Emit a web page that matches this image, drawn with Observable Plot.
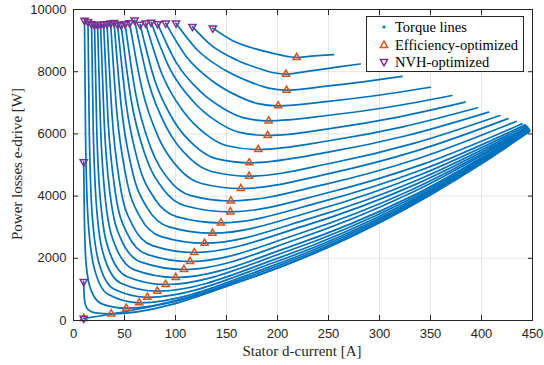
<!DOCTYPE html>
<html><head><meta charset="utf-8">
<script src="https://cdn.jsdelivr.net/npm/d3@7"></script>
<script src="https://cdn.jsdelivr.net/npm/@observablehq/plot@0.6"></script>
<style>
body{margin:0;background:#fff;}
#wrap{position:relative;width:544px;height:365px;overflow:hidden;}
.lab{position:absolute;font-family:"Liberation Serif","Times New Roman",serif;font-size:15px;line-height:16px;color:#262626;white-space:nowrap;}
#xlab{left:0;width:544px;text-align:center;top:343px;padding-left:60px;box-sizing:border-box;}
#ylab{left:17px;top:164px;transform:translate(-50%,-50%) rotate(-90deg);}
#legend{position:absolute;left:366px;top:16px;width:158px;height:56px;border:1px solid #262626;background:#fff;box-sizing:border-box;font-family:"Liberation Serif","Times New Roman",serif;font-size:14.5px;color:#000;}
.row{position:absolute;left:0;height:18px;line-height:18px;}
.row svg{position:absolute;left:12px;top:4px;}
.row span{position:absolute;left:28px;top:0;white-space:nowrap;}
</style></head>
<body><div id="wrap"></div>
<script>
const xTicks = [0,50,100,150,200,250,300,350,400,450];
const yTicks = [0,2000,4000,6000,8000,10000];

// Torque lines: points (stator d-current [A], losses [W])
const torqueX = [
 [10,50,100,150,200,250,300,350,400,447],
 [10,10.4,11.5,14.6,21.3,37,172.3,307.6,447],
 [10,10.7,12.4,17.3,27.7,51.8,182.2,312.6,447],
 [10.8,11.8,14.2,20.5,33.8,64.4,190.7,316.9,447],
 [14.2,15.5,18.3,25.3,39.6,72.4,196,319.6,447],
 [17.7,19.4,22.9,30.8,46.5,82.2,202.6,323,447],
 [20.6,22.8,27.0,35.8,52.6,90.4,208.1,325.8,446.5],
 [23.6,26.5,31.5,41.5,59.8,100.2,214.5,328.8,446.5],
 [26.5,30.1,36.1,47.0,66.3,108.3,219.7,331.2,446],
 [29.5,33.8,40.7,52.4,72.1,114.3,223.8,333.2,446],
 [32.9,37.8,45.5,57.8,77.4,118.4,226.3,334.3,445.5],
 [36.4,42.4,51.6,65.2,86.0,128.5,233,337.4,445],
 [39.8,46.9,57.4,72.3,93.6,136.3,237.8,339.4,444],
 [43.2,51.6,63.6,79.8,101.8,144.5,243,341.5,443],
 [46.7,56.5,70.5,88.2,111.0,153.8,248.2,342.7,440],
 [50.6,61.1,75.8,93.6,115.2,154.3,246.6,338.9,434],
 [55,67.2,83.9,103.4,125.5,164.1,250.5,337,426],
 [59.9,73.6,92.2,113.1,135.3,172.3,253.4,334.5,418],
 [65.3,79.5,98.6,119.2,139.8,172.3,249.8,327.2,407],
 [70.7,86.6,107.8,129.9,150.5,181.1,252,322.9,396],
 [76.1,93.9,117.4,141.1,161.9,190.4,254.3,318.2,384],
 [82.5,100.8,124.6,148.1,167.2,191.3,250.6,309.9,371],
 [90.4,110.3,136.1,160.8,179.5,200.7,250,299.2,350],
 [100.5,121.5,148.4,173.6,191.3,208.9,246.2,283.5,322],
 [116.6,135.5,159.8,181.9,196.2,208.3,232.3,256.3,281],
 [136.6,154.7,177.7,198.3,210.6,218.8,230.7,242.7,255]
];
const torqueY = [
 [70,281,641,1107,1680,2359,3145,4037,5036,6075],
 [1250,836,526,339,246,215,1357,3280,6085],
 [5100,3218,1807,960,536,395,1539,3403,6095],
 [9650,6018,3293,1659,841,569,1707,3517,6105],
 [9600,6058,3402,1808,1012,746,1857,3612,6115],
 [9540,6101,3521,1974,1200,942,2030,3724,6125],
 [9510,6169,3664,2160,1409,1158,2210,3837,6140],
 [9510,6259,3821,2358,1627,1383,2399,3951,6150],
 [9520,6368,4004,2586,1876,1640,2620,4106,6165],
 [9530,6477,4187,2813,2126,1897,2823,4228,6180],
 [9540,6598,4392,3068,2407,2186,3043,4361,6200],
 [9560,6730,4608,3335,2698,2486,3290,4517,6225],
 [9580,6871,4839,3620,3010,2807,3545,4679,6255],
 [9530,6974,5058,3908,3333,3141,3814,4847,6290],
 [9500,7098,5297,4216,3675,3495,4101,5029,6325],
 [9540,7261,5551,4526,4013,3842,4379,5218,6400],
 [9570,7440,5842,4883,4404,4244,4725,5462,6490],
 [9660,7652,6146,5242,4791,4640,5064,5703,6590],
 [9520,7740,6406,5605,5204,5071,5416,5949,6700],
 [9560,7935,6717,5985,5620,5498,5788,6228,6840],
 [9590,8134,7041,6386,6058,5949,6187,6540,7020],
 [9540,8292,7357,6795,6515,6421,6599,6866,7235],
 [9560,8498,7701,7223,6984,6904,7048,7243,7500],
 [9560,8698,8052,7664,7470,7405,7529,7673,7850],
 [9450,8838,8379,8104,7966,7920,8026,8137,8250],
 [9400,9023,8740,8570,8485,8457,8494,8525,8550]
];
const effX = [10,37,51.8,64.4,72.4,82.2,90.4,100.2,108.3,114.3,118.4,128.5,136.3,144.5,153.8,154.3,164.1,172.3,172.3,181.1,190.4,191.3,200.7,208.9,208.3,218.8];
const effY = [70,215,395,569,746,942,1158,1383,1640,1897,2186,2486,2807,3141,3495,3842,4244,4640,5071,5498,5949,6421,6904,7405,7920,8457];
const nvhX = [10,10,10,10.8,14.2,17.7,20.6,23.6,26.5,29.5,32.9,36.4,39.8,43.2,46.7,50.6,55,59.9,65.3,70.7,76.1,82.5,90.4,100.5,116.6,136.6];
const nvhY = [70,1250,5100,9650,9600,9540,9510,9510,9520,9530,9540,9560,9580,9530,9500,9540,9570,9660,9520,9560,9590,9540,9560,9560,9450,9400];
const legendLabels = ["Torque lines","Efficiency-optimized","NVH-optimized"];

const BLUE="#0072BD", ORANGE="#D95319", PURPLE="#7E2F8E", AX="#262626";

const lines = torqueX.flatMap((xs,k)=>xs.map((x,i)=>({k,x,y:torqueY[k][i]})));
const eff = effX.map((x,i)=>({x,y:effY[i]}));
const nvh = nvhX.map((x,i)=>({x,y:nvhY[i]}));

const triUp = {draw(c,size){const r=Math.sqrt(size/Math.PI)*1.15;c.moveTo(0,-r);c.lineTo(r*0.866,r*0.5);c.lineTo(-r*0.866,r*0.5);c.closePath();}};
const triDown = {draw(c,size){const r=Math.sqrt(size/Math.PI)*1.15;c.moveTo(0,r);c.lineTo(r*0.866,-r*0.5);c.lineTo(-r*0.866,-r*0.5);c.closePath();}};
const fmt = d => String(d);

const chart = Plot.plot({
  width:544, height:365,
  marginLeft:73, marginRight:12, marginTop:9, marginBottom:45,
  x:{domain:[0,450], label:null},
  y:{domain:[0,10000], label:null},
  style:{fontFamily:"'Liberation Sans',Arial,sans-serif", fontSize:"13px", color:AX, background:"#fff"},
  marks:[
    Plot.gridX(xTicks,{stroke:AX, strokeOpacity:0.12}),
    Plot.gridY(yTicks,{stroke:AX, strokeOpacity:0.12}),
    Plot.line(lines,{x:"x",y:"y",z:"k",stroke:BLUE,strokeWidth:1.7,curve:"monotone-x",clip:true}),
    Plot.dot(eff,{x:"x",y:"y",symbol:triUp,r:3.6,stroke:ORANGE,strokeWidth:1.5,fill:"none"}),
    Plot.dot(nvh,{x:"x",y:"y",symbol:triDown,r:3.6,stroke:PURPLE,strokeWidth:1.5,fill:"none"}),
    Plot.frame({stroke:AX}),
    Plot.axisX(xTicks,{anchor:"bottom",tickSize:-5,tickPadding:13,stroke:AX,fill:AX,label:null,tickFormat:fmt}),
    Plot.axisX(xTicks,{anchor:"top",tickSize:-5,stroke:AX,fill:"none",label:null}),
    Plot.axisY(yTicks,{anchor:"left",tickSize:-5,tickPadding:12,stroke:AX,fill:AX,label:null,tickFormat:fmt}),
    Plot.axisY(yTicks,{anchor:"right",tickSize:-5,stroke:AX,fill:"none",label:null})
  ]
});
const wrap = document.getElementById("wrap");
wrap.appendChild(chart);

const xl = document.createElement("div"); xl.className="lab"; xl.id="xlab"; xl.textContent="Stator d-current [A]"; wrap.appendChild(xl);
const yl = document.createElement("div"); yl.className="lab"; yl.id="ylab"; yl.textContent="Power losses e-drive [W]"; wrap.appendChild(yl);

const lg = document.createElement("div"); lg.id="legend";
const syms = [
  `<svg width="10" height="10"><circle cx="5" cy="5" r="1.6" fill="${BLUE}"/></svg>`,
  `<svg width="10" height="10"><path d="M5,1.2L8.6,7.5L1.4,7.5Z" fill="none" stroke="${ORANGE}" stroke-width="1.5"/></svg>`,
  `<svg width="10" height="10"><path d="M5,8.8L8.6,2.5L1.4,2.5Z" fill="none" stroke="${PURPLE}" stroke-width="1.5"/></svg>`
];
legendLabels.forEach((t,i)=>{
  const r=document.createElement("div"); r.className="row"; r.style.top=(1+i*17.5)+"px";
  r.innerHTML=syms[i]+`<span>${t}</span>`; lg.appendChild(r);
});
wrap.appendChild(lg);
</script></body></html>
